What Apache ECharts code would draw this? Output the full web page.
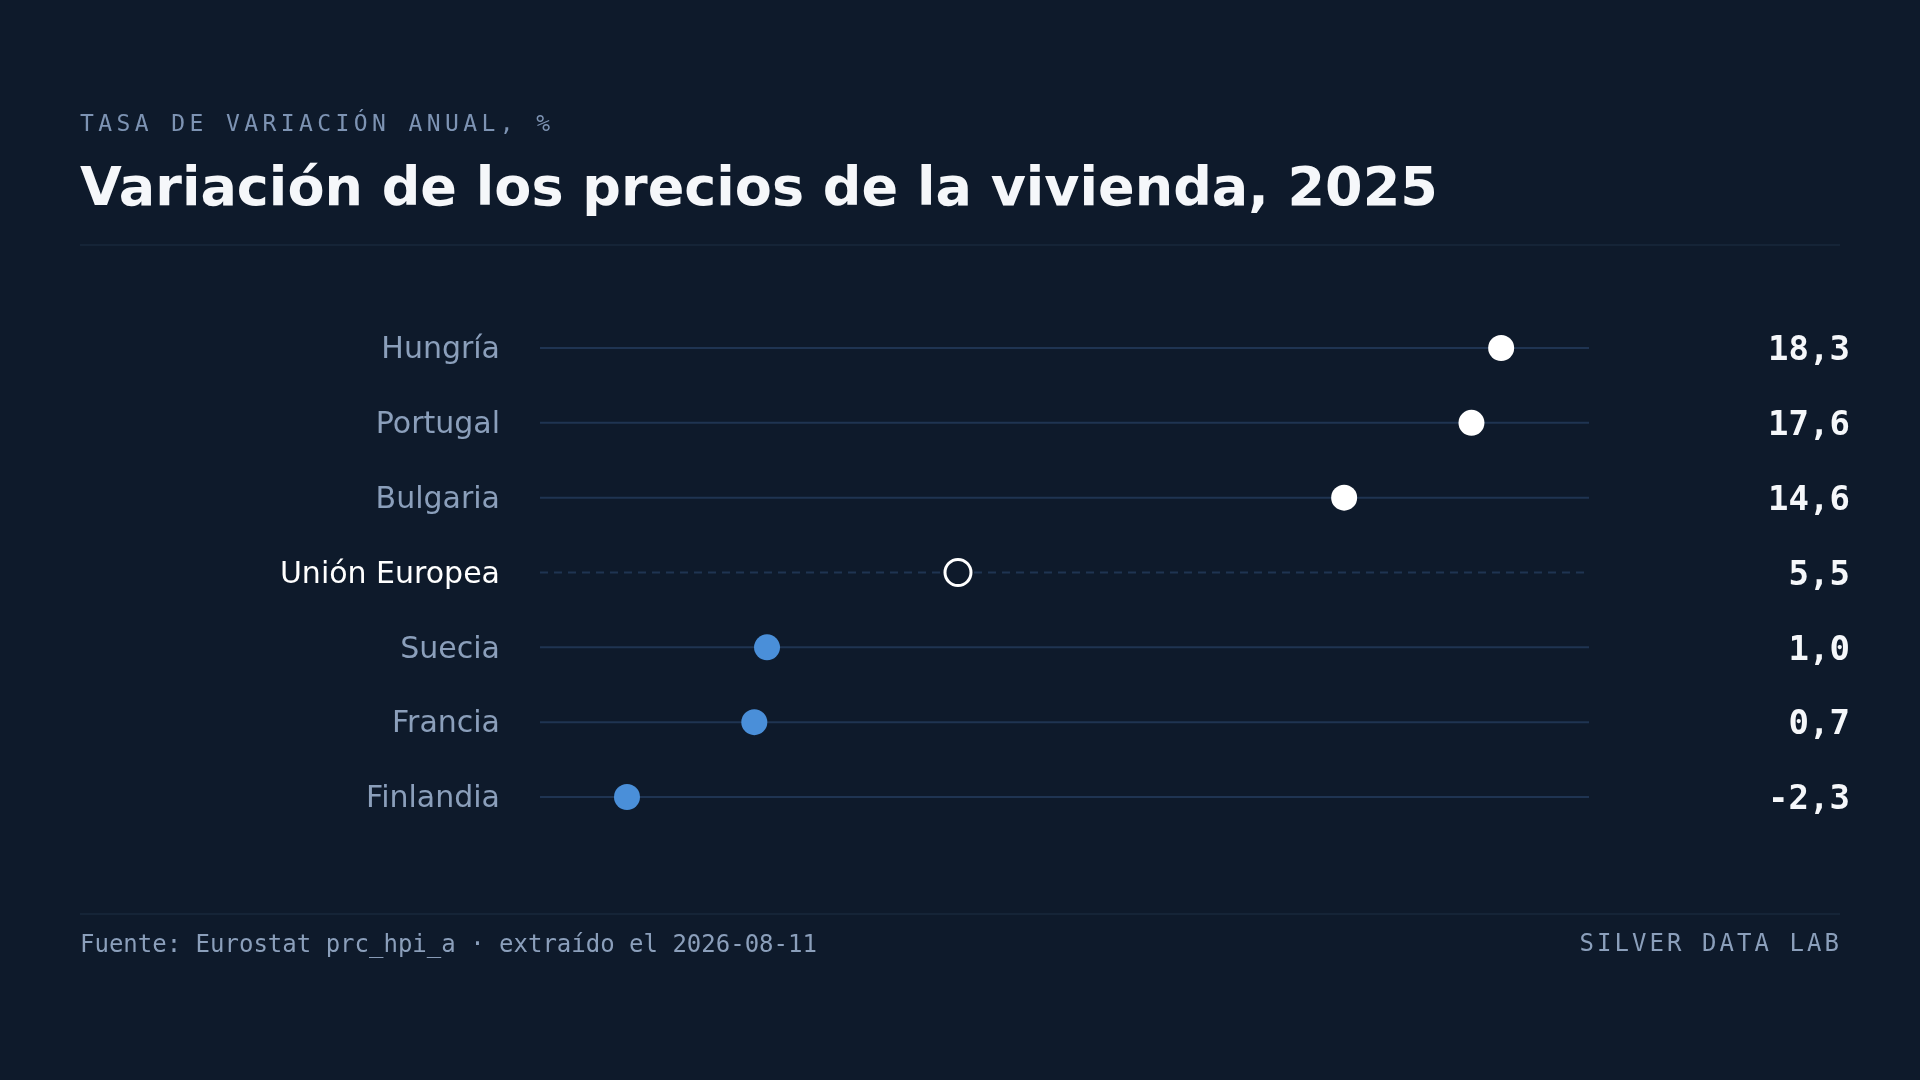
<!DOCTYPE html>
<html>
<head>
<meta charset="utf-8">
<title>Variación de los precios de la vivienda, 2025</title>
<script src="https://cdn.jsdelivr.net/npm/echarts@6/dist/echarts.min.js"></script>
<style>
  html, body { margin: 0; padding: 0; background: #0e1a2b; }
  #wrap { position: relative; width: 1920px; height: 1080px; }
  #main { width: 1920px; height: 1080px; }
  .spaced {
    position: absolute; margin: 0; white-space: nowrap;
    font-family: "DejaVu Sans Mono", monospace; line-height: 1;
  }
  #kicker { left: 80px; top: 112px; font-size: 23px; letter-spacing: 4.4px; color: #7d93b3; }
  #brand { right: 78px; top: 931px; font-size: 24px; letter-spacing: 3.05px; color: #8b9fbb; }
</style>
</head>
<body>
<div id="wrap">
  <div id="main"></div>
  <div id="kicker" class="spaced">TASA DE VARIACIÓN ANUAL, %</div>
  <div id="brand" class="spaced">SILVER DATA LAB</div>
</div>
<script>
// data
const countries = ['Hungría', 'Portugal', 'Bulgaria', 'Unión Europea', 'Suecia', 'Francia', 'Finlandia'];
const values = [18.3, 17.6, 14.6, 5.5, 1.0, 0.7, -2.3];
const kinds = ['high', 'high', 'high', 'eu', 'low', 'low', 'low'];
const axisMin = -4.35;
const axisMax = 20.37;

const BG = '#0e1a2b';
const MUTED = '#8b9fbb';
const RULE = '#1f3452';

const fmt = v => v.toFixed(1).replace('.', ',');

const chart = echarts.init(document.getElementById('main'));

const dotData = values.map((v, i) => {
  const k = kinds[i];
  let itemStyle;
  if (k === 'eu') itemStyle = { color: BG, borderColor: '#ffffff', borderWidth: 3, opacity: 1 };
  else if (k === 'high') itemStyle = { color: '#ffffff', opacity: 1 };
  else itemStyle = { color: '#4a8fd9', opacity: 1 };
  return { value: [v, i], itemStyle: itemStyle };
});

chart.setOption({
  backgroundColor: BG,
  animation: false,
  grid: { left: 540, right: 331, top: 348, bottom: 283 },
  xAxis: {
    type: 'value', min: axisMin, max: axisMax,
    show: false
  },
  yAxis: [
    {
      type: 'category', data: countries, inverse: true, boundaryGap: false,
      axisLine: { show: false }, axisTick: { show: false }, splitLine: { show: false },
      axisLabel: {
        margin: 40,
        formatter: (val) => val === 'Unión Europea' ? '{eu|' + val + '}' : '{c|' + val + '}',
        rich: {
          c: { fontFamily: 'DejaVu Sans', fontSize: 30, color: MUTED, padding: [5, 0, 0, 0] },
          eu: { fontFamily: 'DejaVu Sans', fontSize: 30, color: '#ffffff', padding: [5, 0, 0, 0] }
        }
      }
    },
    {
      type: 'category', data: values.map(fmt), inverse: true, boundaryGap: false,
      position: 'right',
      axisLine: { show: false }, axisTick: { show: false }, splitLine: { show: false },
      axisLabel: {
        margin: 261, align: 'right',
        formatter: (val) => '{v|' + val + '}',
        rich: {
          v: {
            fontFamily: 'DejaVu Sans Mono', fontWeight: 'bold', fontSize: 34,
            color: '#f5f7fa', padding: [7, 0, 0, 0]
          }
        }
      }
    }
  ],
  series: [
    {
      // row rules, one per category
      type: 'custom',
      silent: true,
      z: 1,
      data: countries.map((c, i) => [i]),
      renderItem: (params, api) => {
        const i = api.value(0);
        const a = api.coord([axisMin, i]);
        const b = api.coord([axisMax, i]);
        const eu = kinds[i] === 'eu';
        return {
          type: 'line',
          shape: { x1: a[0], y1: a[1], x2: b[0], y2: b[1] },
          style: {
            stroke: RULE, lineWidth: 2,
            lineDash: eu ? [8, 6] : null
          }
        };
      }
    },
    {
      type: 'scatter',
      z: 3,
      symbolSize: 26,
      data: dotData
    }
  ],
  graphic: [
    {
      type: 'text', left: 80, top: 164,
      style: {
        text: 'Variación de los precios de la vivienda, 2025', fill: '#f5f7fa',
        font: 'bold 54px "DejaVu Sans"'
      }
    },
    {
      type: 'line', shape: { x1: 80, y1: 245, x2: 1840, y2: 245 },
      style: { stroke: '#18283d', lineWidth: 1.5 }
    },
    {
      type: 'line', shape: { x1: 80, y1: 914, x2: 1840, y2: 914 },
      style: { stroke: '#18283d', lineWidth: 1.5 }
    },
    {
      type: 'text', left: 80, top: 934,
      style: {
        text: 'Fuente: Eurostat prc_hpi_a · extraído el 2026-08-11', fill: MUTED,
        font: '24px "DejaVu Sans Mono"'
      }
    }
  ]
});
</script>
</body>
</html>
